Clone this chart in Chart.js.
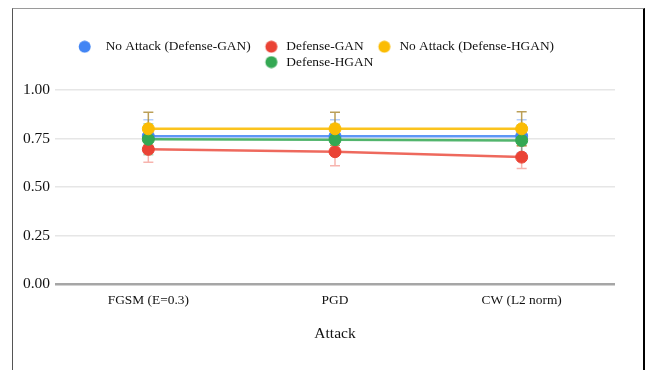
<!DOCTYPE html>
<html>
<head>
<meta charset="utf-8">
<script src="https://cdn.jsdelivr.net/npm/chart.js@4.4.1/dist/chart.umd.min.js"></script>
<style>
  html, body { margin: 0; padding: 0; background: #fff; }
  #wrap { position: relative; width: 647px; height: 370px; overflow: hidden; }
  #frame {
    position: absolute; left: 12px; top: 8px; width: 633px; height: 400px;
    border-top: 1px solid #9a9a9a; border-left: 1px solid #555; border-right: 2px solid #000;
    box-sizing: border-box;
  }
  #chart { position: absolute; left: 0; top: 0; }
</style>
</head>
<body>
<div id="wrap">
  <div id="frame"></div>
  <canvas id="chart" width="647" height="370"></canvas>
</div>
<script>
// Attack types on the x axis
const categories = ['FGSM (E=0.3)', 'PGD', 'CW (L2 norm)'];

// Accuracy per attack
const noAttackGan  = [0.762, 0.762, 0.762];
const defenseGan   = [0.694, 0.682, 0.654];
const noAttackHgan = [0.800, 0.800, 0.800];
const defenseHgan  = [0.746, 0.744, 0.740];

// Error bar half-lengths
const errNoAttackGan  = [0.085, 0.085, 0.085];
const errDefenseGan   = [0.067, 0.072, 0.058];
const errNoAttackHgan = [0.085, 0.085, 0.088];
const errDefenseHgan  = [0.080, 0.080, 0.080];

// Y axis tick labels (0 to 1 in steps of 0.25)
const yTickLabels = ['0.00', '0.25', '0.50', '0.75', '1.00'];

const SERIF = "'Liberation Serif', 'Times New Roman', serif";
Chart.defaults.font.family = SERIF;
Chart.defaults.color = '#111';

const DOT_BOX = 27;   // legend marker box width
const DOT_X = 18.7;   // circle centre inside the box

// Round legend marker; `shift` moves the circle further left of its label
function legendDot(color, shift) {
  const c = document.createElement('canvas');
  c.width = DOT_BOX + 2 * shift; c.height = 13;
  const g = c.getContext('2d');
  g.fillStyle = color;
  g.beginPath();
  g.arc(DOT_X, 6.5, 6, 0, Math.PI * 2);
  g.fill();
  return c;
}

// Error bars drawn behind the lines and points
const errorBars = {
  id: 'errorBars',
  beforeDatasetsDraw(chart) {
    const { ctx, scales: { y } } = chart;
    chart.data.datasets.forEach((ds, i) => {
      const meta = chart.getDatasetMeta(i);
      if (!chart.isDatasetVisible(i)) return;
      ctx.save();
      ctx.strokeStyle = ds.errorColor;
      ctx.lineWidth = 1.5;
      meta.data.forEach((pt, j) => {
        const v = ds.data[j], e = ds.errors[j];
        const yt = y.getPixelForValue(v + e);
        const yb = y.getPixelForValue(v - e);
        ctx.beginPath();
        ctx.moveTo(pt.x, yt); ctx.lineTo(pt.x, yb);
        ctx.moveTo(pt.x - 5, yt); ctx.lineTo(pt.x + 5, yt);
        ctx.moveTo(pt.x - 5, yb); ctx.lineTo(pt.x + 5, yb);
        ctx.stroke();
      });
      ctx.restore();
    });
  }
};

// Legend wraps into two rows and leaves a fixed gap above the plot
const legendRows = {
  id: 'legendRows',
  afterInit(chart) {
    const legend = chart.legend;
    const fit = legend.fit;
    legend.fit = function () {
      const full = this.maxWidth;
      this.maxWidth = Math.min(full, 520);
      fit.call(this);
      this.maxWidth = full;
      this.width = full;
      this.height = 52;
    };
  }
};

function series(label, data, errors, color, lineColor, errorColor, order) {
  return {
    label, data, errors, errorColor, order,
    borderColor: lineColor,
    backgroundColor: color,
    borderWidth: 2.5,
    pointRadius: 6,
    pointHoverRadius: 6,
    pointBorderWidth: 1,
    pointBorderColor: color,
    pointBackgroundColor: color,
    pointStyle: 'circle',
    tension: 0,
    fill: false
  };
}

new Chart(document.getElementById('chart'), {
  type: 'line',
  data: {
    labels: categories,
    datasets: [
      series('No Attack (Defense-GAN)', noAttackGan, errNoAttackGan,
             '#4285F4', 'rgba(66,133,244,0.85)', 'rgba(66,133,244,0.4)', 3),
      series('Defense-GAN', defenseGan, errDefenseGan,
             '#EA4335', 'rgba(234,67,53,0.8)', 'rgba(234,67,53,0.4)', 4),
      series('No Attack (Defense-HGAN)', noAttackHgan, errNoAttackHgan,
             '#FBBC04', 'rgba(251,188,4,0.9)', 'rgba(170,135,45,0.8)', 1),
      series('Defense-HGAN', defenseHgan, errDefenseHgan,
             '#34A853', 'rgba(52,168,83,0.85)', 'rgba(52,168,83,0.4)', 2)
    ]
  },
  options: {
    responsive: false,
    animation: false,
    devicePixelRatio: 1,
    layout: { padding: { top: 38, left: 11, right: 32, bottom: 0 } },
    plugins: {
      tooltip: { enabled: false },
      legend: {
        position: 'top',
        labels: {
          usePointStyle: true,
          pointStyleWidth: DOT_BOX,
          padding: 2,
          color: '#111',
          font: { size: 13.4, family: SERIF },
          sort: (a, b) => a.datasetIndex - b.datasetIndex,
          generateLabels(chart) {
            const items = Chart.defaults.plugins.legend.labels.generateLabels(chart);
            items.forEach(it => {
              const ds = chart.data.datasets[it.datasetIndex];
              it.pointStyle = legendDot(ds.backgroundColor, it.datasetIndex === 0 ? 6 : 0);
            });
            return items;
          }
        }
      }
    },
    scales: {
      x: {
        type: 'category',
        offset: true,
        grid: { display: false, drawTicks: false },
        border: { display: false },
        ticks: { padding: 8, color: '#111', font: { size: 13.4 } },
        title: {
          display: true, text: 'Attack', color: '#111',
          font: { size: 15.5 }, padding: { top: 0, bottom: 26.7 }
        },
        afterFit(scale) { scale.height = 86; }
      },
      y: {
        min: 0, max: 1,
        grid: {
          drawTicks: false,
          color: c => (c.tick && c.tick.value === 0 ? '#a6a6a6' : '#e6e6e6'),
          lineWidth: c => (c.tick && c.tick.value === 0 ? 2.5 : 1.5)
        },
        border: { display: false },
        ticks: {
          stepSize: 0.25,
          padding: 5,
          color: '#111',
          font: { size: 15.5 },
          callback: (v, i) => yTickLabels[i]
        },
        afterFit(scale) { scale.width = 44; }
      }
    }
  },
  plugins: [errorBars, legendRows]
});
</script>
</body>
</html>
